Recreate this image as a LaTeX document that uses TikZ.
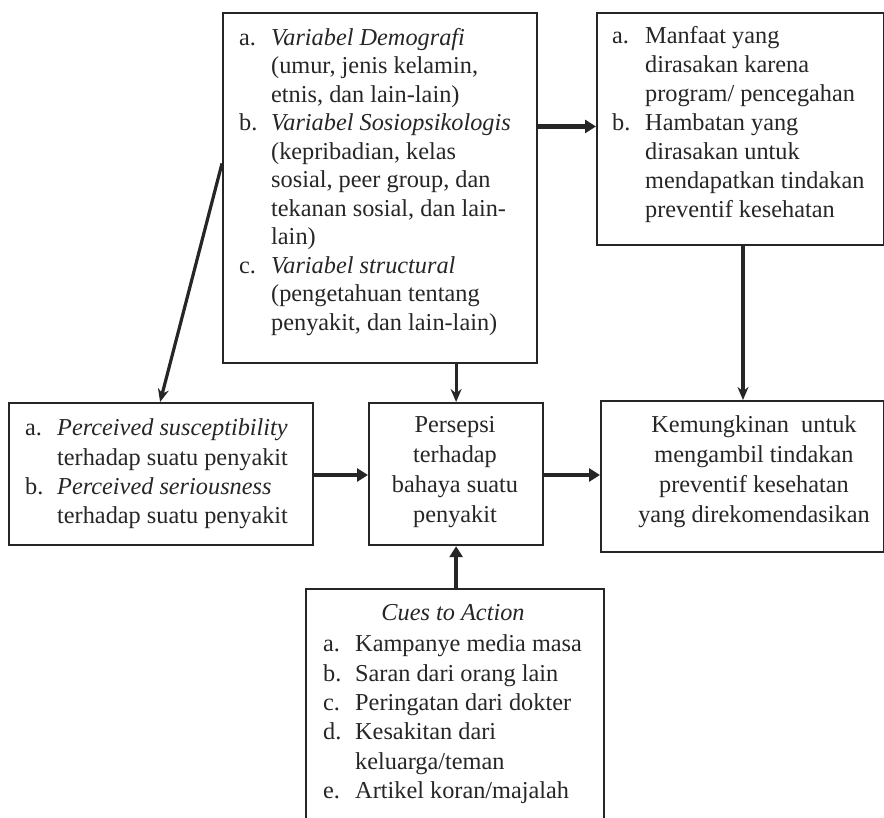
\documentclass[tikz,border=0pt]{standalone}
\usepackage{fontspec}
\setmainfont{Liberation Serif}
\usetikzlibrary{arrows.meta,calc}
\definecolor{ink}{HTML}{262626}
\tikzset{
  box/.style={draw=ink, line width=2.2pt, anchor=north west, inner sep=0pt},
  txt/.style={anchor=north west, inner sep=0pt, align=left, text=ink},
  ctxt/.style={anchor=north, inner sep=0pt, align=center, text=ink},
  varrow/.style={draw=ink, line width=3.2pt, -{Stealth[length=13pt,width=11pt]}},
  harrow/.style={draw=ink, line width=4.5pt, -{Triangle[length=11pt,width=13pt]}},
}
\newcommand{\bodyfont}{\fontsize{24.3}{28.5}\selectfont}
\begin{document}
\begin{tikzpicture}[x=1pt,y=-1pt]
\useasboundingbox[fill=white] (0,0) rectangle (884,818);
% boxes
\node[box, minimum width=314pt, minimum height=350pt] (demo) at (222,12) {};
\node[box, minimum width=287pt, minimum height=232pt] (benef) at (596,12) {};
\node[box, minimum width=304pt, minimum height=142pt] (perc) at (8,402) {};
\node[box, minimum width=174pt, minimum height=142pt] (pers) at (368,402) {};
\node[box, minimum width=283pt, minimum height=151pt] (kemung) at (600,400) {};
\node[box, minimum width=298pt, minimum height=250pt] (cues) at (305,588) {};
% texts
\node[txt] (tdemo) at (239,25) {\bodyfont\begin{tabular}{@{}p{32pt}@{}l@{}}
a. & \textit{Variabel Demografi}\\
 & (umur, jenis kelamin,\\
 & etnis, dan lain-lain)\\
b. & \textit{Variabel Sosiopsikologis}\\
 & (kepribadian, kelas\\
 & sosial, peer group, dan\\
 & tekanan sosial, dan lain-\\
 & lain)\\
c. & \textit{Variabel structural}\\
 & (pengetahuan tentang\\
 & penyakit, dan lain-lain)
\end{tabular}};
\node[txt] (tbenef) at (612,23) {\fontsize{24.3}{29}\selectfont\begin{tabular}{@{}p{33pt}@{}l@{}}
a. & Manfaat yang\\
 & dirasakan karena\\
 & program/ pencegahan\\
b. & Hambatan yang\\
 & dirasakan untuk\\
 & mendapatkan tindakan\\
 & preventif kesehatan
\end{tabular}};
\node[txt] (tperc) at (25,415) {\fontsize{24.3}{29.3}\selectfont\begin{tabular}{@{}p{32pt}@{}l@{}}
a. & \textit{Perceived susceptibility}\\
 & terhadap suatu penyakit\\
b. & \textit{Perceived seriousness}\\
 & terhadap suatu penyakit
\end{tabular}};
\node[ctxt] (tpers) at (455,411.5) {\fontsize{24.3}{30}\selectfont\begin{tabular}{@{}c@{}}
Persepsi\\ terhadap\\ bahaya suatu\\ penyakit
\end{tabular}};
\node[ctxt] (tkemung) at (754,411.5) {\fontsize{24.3}{30}\selectfont\begin{tabular}{@{}c@{}}
Kemungkinan\ \ untuk\\ mengambil tindakan\\ preventif kesehatan\\ yang direkomendasikan
\end{tabular}};
\node[ctxt] (tcues) at (453,604) {\fontsize{24.3}{29.4}\selectfont\textit{Cues to Action}};
\node[txt] (tcueslist) at (323,631) {\fontsize{24.3}{29.4}\selectfont\begin{tabular}{@{}p{32pt}@{}l@{}}
a. & Kampanye media masa\\
b. & Saran dari orang lain\\
c. & Peringatan dari dokter\\
d. & Kesakitan dari\\
 & keluarga/teman\\
e. & Artikel koran/majalah
\end{tabular}};
% connectors
\coordinate (hy) at (0,475);
\coordinate (kx) at (743,0);
\coordinate (dr) at ($(demo.north east)!0.325!(demo.south east)$);
\coordinate (dl) at ($(demo.north west)!0.43!(demo.south west)$);
\draw[harrow] (dr) -- (dr -| benef.west);
\draw[varrow] (dl) -- ([xshift=-1pt]perc.north);
\draw[varrow] (pers.north |- demo.south) -- (pers.north);
\draw[varrow] (kx |- benef.south) -- (kx |- kemung.north);
\draw[harrow] (perc.east |- hy) -- (pers.west |- hy);
\draw[harrow] (pers.east |- hy) -- (kemung.west |- hy);
\draw[harrow] (cues.north -| pers.south) -- (pers.south);
\end{tikzpicture}
\end{document}
